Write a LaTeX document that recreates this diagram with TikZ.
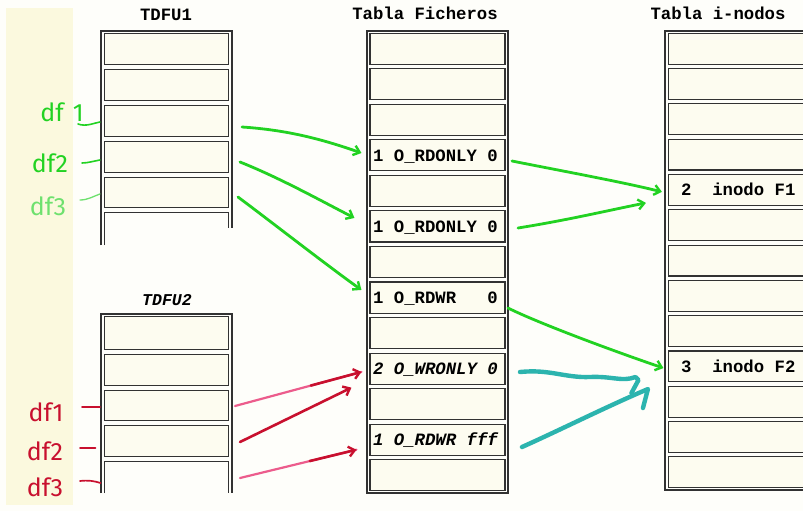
\documentclass[tikz,border=0pt]{standalone}
\usepackage{fontspec}
\setmonofont{Liberation Mono}
\setsansfont{Fira Sans}
\usetikzlibrary{arrows.meta,calc}
\definecolor{bgc}{RGB}{254,254,250}
\definecolor{stripc}{RGB}{251,249,222}
\definecolor{framec}{RGB}{50,50,50}
\definecolor{cellc}{RGB}{253,252,240}
\definecolor{peng}{RGB}{34,210,34}
\definecolor{penglight}{RGB}{110,225,110}
\definecolor{penr}{RGB}{200,16,46}
\definecolor{penp}{RGB}{236,92,140}
\definecolor{pent}{RGB}{44,180,174}
\tikzset{
  frame/.style={draw=framec, line width=1.4pt},
  innerline/.style={draw=framec, line width=1.1pt},
  cellbox/.style={draw=framec, line width=1.1pt, fill=cellc, inner sep=0pt, rectangle},
  hdr/.style={font=\ttfamily\bfseries\fontsize{17.3}{18}\selectfont, inner sep=0pt, anchor=base},
  hdri/.style={font=\ttfamily\bfseries\itshape\fontsize{16.5}{18}\selectfont, inner sep=0pt, anchor=base},
  entry/.style={font=\ttfamily\bfseries\fontsize{17.3}{18}\selectfont, inner sep=0pt, anchor=base west},
  entryi/.style={entry, font=\ttfamily\bfseries\itshape\fontsize{17.3}{18}\selectfont},
  hand/.style={font=\sffamily\fontsize{25}{27}\selectfont, inner sep=0pt},
  tip/.style={-{Straight Barb[length=6pt,width=10pt,line width=2.4pt]}},
  gpen/.style={draw=peng, line width=2.8pt, line cap=round, tip},
  rpen/.style={draw=penr, line width=2.6pt, line cap=round, tip},
  ppen/.style={draw=penp, line width=2.2pt, line cap=round},
  tpen/.style={draw=pent, line width=4.4pt, line cap=round, line join=round},
  gtick/.style={draw=peng, line width=1.6pt, line cap=round},
  gtickl/.style={draw=penglight, line width=1.3pt, line cap=round},
  rtick/.style={draw=penr, line width=1.7pt, line cap=round}
}
\begin{document}
\begin{tikzpicture}[x=1pt,y=-1pt]
\useasboundingbox (0,0) rectangle (803,511);
\begin{scope}
\clip (0,0) rectangle (803,511);
\fill[bgc] (0,0) rectangle (803,511);
\fill[stripc] (6,8) rectangle (73,505);

% ---------- TDFU1
\draw[frame] (101,245) -- (101,31) -- (232,31) -- (232,228);
\foreach \t/\b [count=\k] in {31/67,67/103,103/139,139/175,175/210}
  \node[cellbox, minimum width=124pt, minimum height={\b-\t-4.4}] (a\k) at (166.5,{(\t+\b)/2}) {};
\draw[innerline] (104.5,245) -- (104.5,212.2) -- (228.5,212.2) -- (228.5,228);

% ---------- TDFU2
\draw[frame] (101,493) -- (101,314) -- (232,314) -- (232,493);
\foreach \t/\b [count=\k] in {314/352,352/388,388/423,423/459}
  \node[cellbox, minimum width=124pt, minimum height={\b-\t-4.4}] (b\k) at (166.5,{(\t+\b)/2}) {};
\draw[innerline] (104.5,493) -- (104.5,461.2) -- (228.5,461.2) -- (228.5,493);
\coordinate (b5) at (104.5,477);

% ---------- Tabla Ficheros
\draw[frame] (367,31) rectangle (508,493);
\foreach \k in {1,...,13}
  \node[cellbox, minimum width=135pt, minimum height=31.1pt] (f\k) at (437.5,{31+(\k-0.5)*35.54}) {};

% ---------- Tabla i-nodos
\draw[frame] (665,31) rectangle (840,490);
\foreach \k in {1,...,13}
  \node[cellbox, minimum width=168pt, minimum height=30.9pt] (i\k) at (752.5,{31+(\k-0.5)*35.31}) {};

% ---------- headers
\node[hdr] (h1) at (166,21) {TDFU1};
\node[hdri] (h2) at (167,305) {TDFU2};
\node[hdr] (h3) at (425,20) {Tabla Ficheros};
\node[hdr] (h4) at (718,20) {Tabla i-nodos};

% ---------- entries
\node[entry] (e1) at (373,161) {1 O\_RDONLY 0};
\node[entry] (e2) at (373,232) {1 O\_RDONLY 0};
\node[entry] (e3) at (373,303) {1 O\_RDWR\ \ \ 0};
\node[entryi] (e4) at (373,374) {2 O\_WRONLY 0};
\node[entryi] (e5) at (373,445) {1 O\_RDWR fff};
\node[entry] (n1) at (681,195) {2\ \ inodo F1};
\node[entry] (n2) at (681,372) {3\ \ inodo F2};

% ---------- handwritten labels
\node[hand, text=peng] (d1) at (62,112) {df\hspace{9pt}1};
\node[hand, text=peng] (d2) at (50,163) {df2};
\node[hand, text=penglight] (d3) at (48,206) {df3};
\node[hand, text=penr] (r1) at (46,412) {df1};
\node[hand, text=penr] (r2) at (45,451) {df2};
\node[hand, text=penr] (r3) at (45,487) {df3};

\coordinate (k1) at (78,124);
\coordinate (k2) at (82,163);
\coordinate (k3) at (80,200);
\coordinate (k4) at (82,407);
\coordinate (k5) at (80,448);
\coordinate (k6) at (80,481);
\draw[gtick] (k1) .. controls +(8,3) and +(-6,1) .. ($(a3.west)+(-4,1)$);
\draw[gtick] (k2) .. controls +(6,0) and +(-6,1) .. ($(a4.west)+(-4,3)$);
\draw[gtickl] (k3) .. controls +(8,0) and +(-6,2) .. ($(a5.west)+(-4,1.5)$);
\draw[rtick] (k4) -- ($(b3.west)+(-4,1.5)$);
\draw[rtick] (k5) -- ($(b4.west)+(-8.5,7)$);
\draw[rtick] (k6) .. controls +(8,-1) and +(-6,-2) .. ($(b5)+(-4,6)$);

% ---------- green arrows TDFU1 -> Ficheros
\coordinate (s1) at (242,127);
\coordinate (s2) at (240,162);
\coordinate (s3) at (238,197);
\draw[gpen] (s1) .. controls +(45,3) and +(-40,-14) .. ($(f4.west)+(-8,-2.4)$);
\draw[gpen] (s2) .. controls +(40,16) and +(-35,-18) .. ($(f6.west)+(-15,-8.5)$);
\draw[gpen] (s3) .. controls +(40,30) and +(-35,-25) .. ($(f8.west)+(-8,-7.6)$);

% ---------- green arrows Ficheros -> i-nodos
\coordinate (s4) at (512,161);
\coordinate (s5) at (518,228);
\coordinate (s6) at (508,308);
\draw[gpen] (s4) .. controls +(50,10) and +(-40,-10) .. ($(i5.west)+(-6,2)$);
\draw[gpen] (s5) .. controls +(50,-8) and +(-40,8) .. ($(i5.west)+(-22,13)$);
\draw[gpen] (s6) .. controls +(30,15) and +(-50,-17) .. ($(i10.west)+(-4.5,1.6)$);

% ---------- red arrows TDFU2 -> Ficheros
\coordinate (s7) at (235,406);
\coordinate (s8) at (240,442);
\coordinate (s9) at (240,478);
\coordinate (t7) at ($(f10.west)+(-8,3.3)$);
\coordinate (t8) at ($(f10.west)+(-18,19)$);
\coordinate (t9) at ($(f12.west)+(-13,10)$);
\draw[ppen] (s7) -- (t7);
\draw[rpen] ($(s7)!0.6!(t7)$) -- (t7);
\draw[rpen] (s8) -- (t8);
\draw[ppen] (s9) -- (t9);
\draw[rpen] ($(s9)!0.6!(t9)$) -- (t9);

% ---------- teal strokes Ficheros -> i-nodos F2
\coordinate (s10) at (520,372);
\coordinate (t10) at ($(i10.west)+(-32.5,10.6)$);
\coordinate (s11) at (522,447);
\coordinate (t11) at ($(i10.west)+(-20,22.6)$);
\draw[tpen] (s10) .. controls (550,369) and (565,378) .. (590,377)
  .. controls (612,376) and (622,382) .. (t10) -- ++(3,3) -- ++(-7,13);
\draw[tpen] (s11) .. controls (560,430) and (610,405) .. (t11) -- ++(-5,19);
\end{scope}
\end{tikzpicture}
\end{document}
